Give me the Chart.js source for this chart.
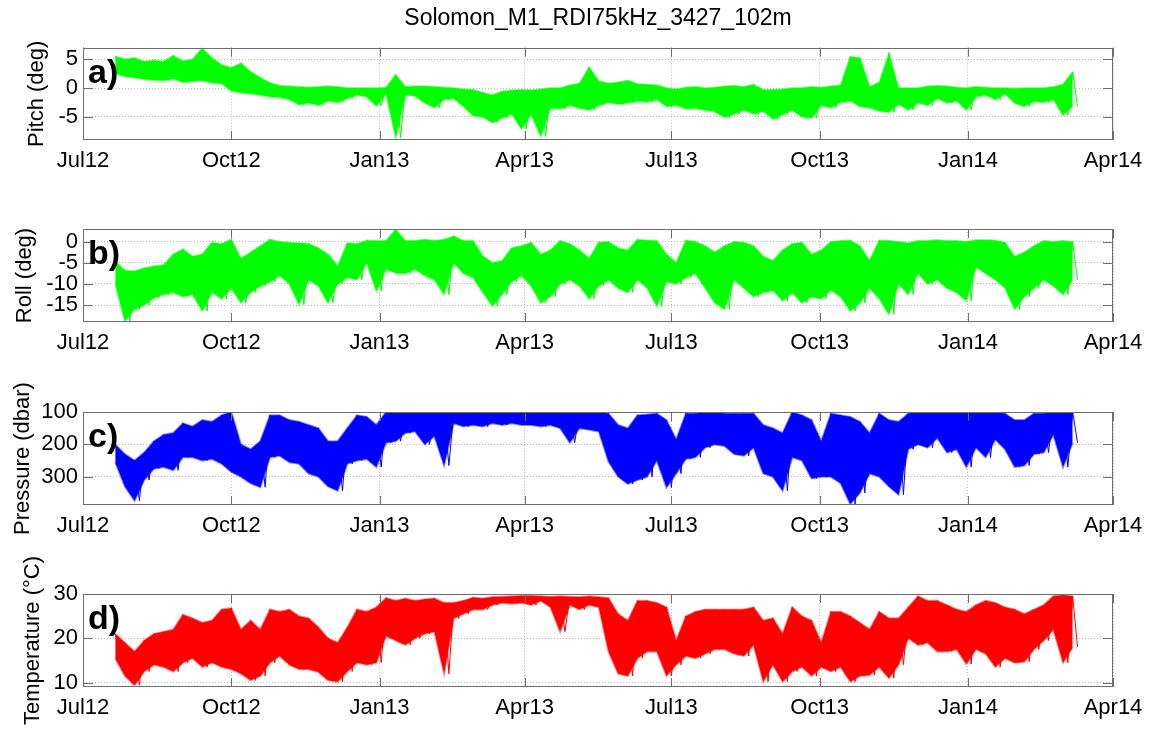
<!DOCTYPE html>
<html lang="en">
<head>
  <meta charset="UTF-8">
  <title>Solomon_M1_RDI75kHz_3427_102m</title>
  <script src="https://cdn.jsdelivr.net/npm/chart.js"></script>
  <style>
    html, body { margin: 0; padding: 0; background: #fff; overflow: hidden; }
    #wrap { position: relative; width: 1153px; height: 731px; }
    .panel { position: absolute; left: 0; width: 1153px; }
  </style>
</head>
<body>
<div id="wrap">
  <div class="panel" style="top:0px;height:184px"><canvas id="pitchChart"></canvas></div>
  <div class="panel" style="top:189px;height:177px"><canvas id="rollChart"></canvas></div>
  <div class="panel" style="top:372px;height:177px"><canvas id="presChart"></canvas></div>
  <div class="panel" style="top:554px;height:177px"><canvas id="tempChart"></canvas></div>
</div>

<script>
  // time axis: days since 1 Jul 2012
  const tickDays = [0, 92, 184, 274, 365, 457, 549, 639];
  const tickLabels = ['Jul12', 'Oct12', 'Jan13', 'Apr13', 'Jul13', 'Oct13', 'Jan14', 'Apr14'];

  // sample days (every 6 days) with upper / lower envelope
  const days = [20,26,32,38,44,50,56,62,68,74,80,86,92,98,104,110,116,122,128,134,
    140,146,152,158,164,170,176,182,188,194,200,206,212,218,224,230,236,242,248,254,
    260,266,272,278,284,290,296,302,308,314,320,326,332,338,344,350,356,362,368,374,
    380,386,392,398,404,410,416,422,428,434,440,446,452,458,464,470,476,482,488,494,
    500,506,512,518,524,530,536,542,548,554,560,566,572,578,584,590,596,602,608,614];

  const pitchHi = [5.5,5.0,5.2,4.6,4.8,4.6,5.6,4.7,5.0,6.9,
    5.2,4.0,3.5,4.3,2.8,1.8,0.9,0.4,0.3,0.2,
    0.1,0.2,0.3,0.2,0.0,0.0,0.0,0.0,0.1,2.3,
    0.2,0.3,0.3,0.2,0.1,0.0,-0.2,-0.3,-0.8,-1.2,
    -0.6,-0.4,-0.3,-0.4,-0.2,0.0,0.0,0.5,0.8,3.6,
    1.2,0.8,1.0,1.3,0.7,0.6,0.5,0.0,-0.2,0.1,
    0.2,0.0,0.1,0.3,0.4,0.2,0.6,-0.3,-0.3,-0.2,
    0.0,0.0,0.2,0.1,0.3,0.5,5.4,5.2,0.2,1.0,
    6.0,0.0,0.0,0.0,0.3,0.4,0.3,0.1,0.0,0.2,
    0.1,0.0,0.0,-0.1,0.0,0.0,0.0,0.2,0.6,2.8];
  const pitchLo = [2.5,2.0,1.8,1.5,1.4,1.3,1.6,1.0,1.2,1.3,
    0.9,0.8,-0.5,-0.8,-1.0,-1.2,-1.5,-1.6,-2.0,-2.9,
    -2.6,-3.0,-2.2,-2.5,-1.8,-1.2,-1.5,-3.1,-1.0,-8.6,
    -1.2,-1.4,-2.6,-3.4,-2.0,-1.8,-3.2,-4.8,-5.0,-6.0,
    -5.2,-4.5,-7.1,-4.6,-8.4,-3.5,-3.6,-3.0,-3.5,-3.8,
    -3.0,-2.5,-2.8,-2.6,-2.3,-2.4,-2.0,-3.2,-3.0,-3.6,
    -3.5,-3.8,-4.1,-5.1,-4.5,-3.8,-4.5,-4.0,-5.4,-4.6,
    -3.8,-5.0,-5.2,-3.0,-3.4,-2.5,-2.2,-3.2,-3.4,-4.0,
    -4.2,-2.8,-3.8,-2.6,-3.0,-1.8,-2.6,-2.2,-3.8,-1.5,
    -1.2,-2.0,-1.0,-2.6,-3.2,-2.3,-2.5,-2.0,-4.7,-3.2];

  const rollHi = [-4.6,-6.8,-7.0,-6.2,-5.8,-5.5,-3.0,-1.8,-3.5,-3.0,
    -0.2,-0.5,0.5,-4.0,-2.5,-1.0,0.5,0.0,-0.2,-0.3,
    -0.5,-1.5,-3.0,-5.8,-0.3,-0.5,0.3,0.2,0.2,2.9,
    0.2,0.2,0.5,0.2,0.5,1.3,0.2,0.2,-3.4,-5.0,
    -4.5,-1.5,-1.0,-0.2,-3.0,-2.0,0.2,-0.5,-2.0,-4.0,
    -0.2,0.0,-1.5,-2.0,0.5,0.3,0.2,-3.0,-5.0,0.3,
    0.0,-1.0,-2.5,-1.0,0.0,-0.2,-1.0,-3.5,-4.5,-2.0,
    -0.5,-0.2,-3.0,-2.0,0.0,0.2,0.3,-1.0,-4.5,0.3,
    0.2,0.0,-0.3,0.2,0.2,0.4,0.2,0.2,0.0,0.4,
    0.4,0.3,-0.2,-3.5,-2.5,-1.0,0.2,0.0,0.2,0.0];
  const rollLo = [-10,-18.8,-16.0,-15.0,-13.3,-12.5,-12.0,-13.0,-12.5,-16.4,
    -12.0,-13.5,-11.0,-14.5,-12.0,-10.5,-9.5,-8.0,-10.0,-14.9,
    -9.0,-10.5,-14.5,-10.0,-8.5,-9.0,-5.0,-11.7,-6.5,-7.4,
    -7.5,-6.5,-8.0,-9.0,-12.5,-5.0,-7.5,-8.5,-12.0,-15.2,
    -12.5,-9.5,-8.0,-10.5,-14.5,-13.0,-10.0,-9.0,-10.5,-13.5,
    -10.5,-9.0,-11.0,-12.0,-9.0,-11.0,-15.3,-9.5,-10.0,-8.5,
    -7.5,-11.0,-14.5,-16.0,-9.0,-11.0,-13.0,-12.0,-11.5,-14.0,
    -12.0,-14.5,-13.0,-13.5,-11.5,-13.0,-16.4,-14.5,-11.0,-13.5,
    -17.2,-10.0,-12.5,-7.5,-10.0,-9.0,-11.0,-12.0,-14.0,-6.0,
    -7.5,-9.0,-11.0,-16.0,-13.0,-11.0,-9.0,-10.5,-12.5,-9.0];

  const presMin = [200,230,250,225,190,170,165,135,145,125,
    130,110,100,200,215,190,110,110,125,130,
    140,150,190,190,150,110,115,140,100,100,
    100,100,100,100,100,100,100,100,100,100,
    100,100,100,100,100,100,100,100,100,100,
    100,105,140,150,110,108,105,125,185,105,
    105,100,100,105,105,105,105,140,150,165,
    100,110,125,190,105,110,115,130,165,105,
    125,130,105,100,100,100,100,100,100,100,
    100,100,105,125,125,105,105,100,100,100];
  const presMax = [255,330,374,310,275,270,280,240,240,250,
    245,260,285,300,320,332,240,235,255,260,
    290,300,330,343,260,250,245,270,195,190,
    165,160,200,175,265,135,145,140,145,135,
    140,135,140,140,145,140,150,195,150,155,
    160,253,300,322,310,300,250,333,290,245,
    240,210,200,205,230,235,210,290,300,343,
    240,250,305,300,300,320,384,350,290,300,
    330,355,215,200,210,180,225,215,270,210,
    240,185,215,270,265,230,225,170,270,195];

  const tempHi = [21,19,17,19.5,21,21.5,22,25.3,24.5,23.5,
    24,26.5,26.8,22,24,22,26.5,26,26.5,25,
    24.5,22.5,20,19,22.5,26.5,26,27,29.1,28.5,
    29,28.5,28.8,29,28,28,28.5,29.2,29.0,29.3,
    29.4,29.5,29.6,29.6,29.5,29.4,29.5,29.4,29.3,29.5,
    29.3,29.1,25.5,24,28.5,28.5,28,27,19.5,25,
    26,26.5,26.5,26.5,26.5,26.5,27,24,24.5,21,
    27,25,24,19,26,26,25,23.5,22,26,
    24.5,24.5,27,29.5,28.5,28.5,27.5,26.5,26,27.5,
    28.5,28,27,26.5,25.5,26.5,27.5,29.5,29.8,29.5];
  const tempLo = [15.5,11.5,9.4,12.5,14,13.5,12.5,14.5,15.5,13.5,
    14.5,13.5,13,12,10.5,11.5,14.5,16,14,13,
    13,12.4,10.5,10.2,12.5,14.5,14,14.5,20.5,19.5,
    18.5,20,21,21.5,12,24.5,25.5,26.5,26.5,27.5,
    28,27.8,28,27.5,28.5,27,21.5,27.5,26.5,27.5,
    27,17,12,11.5,15.5,17,17,11.5,14,16,
    15.5,16.5,17.5,17.5,16.5,16,18.5,10.2,14,10.2,
    12.5,13.5,11.5,13.5,12.5,13.5,10.2,11.5,11.7,13.5,
    11,14,20,18.5,19,17,17,17.5,14.2,17.5,
    16.5,13.5,15.5,14.5,14.7,17.5,19.5,22,14.5,18];

  const FONT = 'Liberation Sans, Arial, Helvetica, sans-serif';

  // box frame, inward ticks and the panel letter (matlab style)
  const matlabBox = {
    id: 'matlabBox',
    afterDraw(chart, args, opts) {
      const {ctx, chartArea: a, scales: {x, y}} = chart;
      ctx.save();
      ctx.strokeStyle = '#6e6e6e';
      ctx.lineWidth = 1;
      ctx.beginPath();
      x.ticks.forEach(t => {
        const px = Math.round(x.getPixelForValue(t.value)) + 0.5;
        ctx.moveTo(px, a.bottom); ctx.lineTo(px, a.bottom - 9);
        ctx.moveTo(px, a.top); ctx.lineTo(px, a.top + 9);
      });
      y.ticks.forEach(t => {
        const py = Math.round(y.getPixelForValue(t.value)) + 0.5;
        ctx.moveTo(a.left, py); ctx.lineTo(a.left + 10, py);
        ctx.moveTo(a.right, py); ctx.lineTo(a.right - 10, py);
      });
      ctx.stroke();
      ctx.strokeRect(Math.round(a.left) + 0.5, Math.round(a.top) + 0.5,
        Math.round(a.width) - 1, Math.round(a.height) - 1);
      ctx.font = 'bold 34px ' + FONT;
      ctx.fillStyle = '#000';
      ctx.textBaseline = 'middle';
      ctx.fillText(opts.text, a.left + 5, a.top + 26);
      ctx.restore();
    }
  };

  function drawPanel(id, cfg) {
    const top = days.map((d, i) => ({x: d, y: cfg.hi[i]}));
    const bottom = days.map((d, i) => ({x: d, y: cfg.lo[i]}));
    const zig = [];
    days.forEach((d, i) => {
      zig.push({x: d, y: cfg.hi[i]});
      zig.push({x: d + 3, y: cfg.lo[i]});
    });
    const gridOpts = {color: '#bcbcbc', lineWidth: 1, drawTicks: false};
    const borderOpts = {display: false, dash: [1, 2]};
    return new Chart(document.getElementById(id), {
      type: 'line',
      data: {
        datasets: [
          {data: top, borderColor: cfg.edge, backgroundColor: cfg.color, borderWidth: 2,
           fill: '+1', pointRadius: 0},
          {data: bottom, borderColor: cfg.edge, borderWidth: 2, fill: false, pointRadius: 0},
          {data: zig, borderColor: cfg.color, borderWidth: 1, fill: false, pointRadius: 0}
        ]
      },
      options: {
        responsive: true,
        maintainAspectRatio: false,
        animation: false,
        events: [],
        layout: {padding: {top: cfg.padTop, right: 40, left: 0, bottom: 0}},
        plugins: {
          legend: {display: false},
          tooltip: {enabled: false},
          title: cfg.title ? {
            display: true, text: cfg.title, color: '#000', fullSize: false,
            font: {family: FONT, size: 23, weight: 'normal'},
            padding: {top: 5, bottom: 15}
          } : {display: false},
          matlabBox: {text: cfg.letter}
        },
        scales: {
          x: {
            type: 'linear', min: 0, max: 639,
            afterBuildTicks: s => { s.ticks = tickDays.map(v => ({value: v})); },
            afterFit: s => { s.height = 44; },
            ticks: {
              callback: (v, i) => tickLabels[i],
              color: '#000', font: {family: FONT, size: 22},
              padding: 8, maxRotation: 0, autoSkip: false
            },
            grid: gridOpts, border: borderOpts
          },
          y: {
            min: cfg.min, max: cfg.max, reverse: !!cfg.reverse,
            afterBuildTicks: s => { s.ticks = cfg.ticks.map(v => ({value: v})); },
            afterFit: s => { s.width = 83; },
            ticks: {color: '#000', font: {family: FONT, size: 22}, padding: 5},
            title: {
              display: true, text: cfg.label, color: '#000',
              font: {family: FONT, size: 22}, padding: {top: cfg.labelPad, bottom: 0}
            },
            grid: gridOpts, border: borderOpts
          }
        }
      },
      plugins: [matlabBox]
    });
  }

  drawPanel('pitchChart', {
    hi: pitchHi, lo: pitchLo, color: '#00ff00', edge: 'rgba(0,255,0,0.45)',
    min: -9, max: 7, ticks: [-5, 0, 5], label: 'Pitch (deg)', letter: 'a)',
    padTop: 0, labelPad: 24, title: 'Solomon_M1_RDI75kHz_3427_102m'
  });
  drawPanel('rollChart', {
    hi: rollHi, lo: rollLo, color: '#00ff00', edge: 'rgba(0,255,0,0.45)',
    min: -19, max: 3, ticks: [-15, -10, -5, 0], label: 'Roll (deg)', letter: 'b)',
    padTop: 40, labelPad: 12
  });
  drawPanel('presChart', {
    hi: presMin, lo: presMax, color: '#0000ff', edge: 'rgba(0,0,255,0.45)',
    min: 100, max: 387, reverse: true, ticks: [100, 200, 300],
    label: 'Pressure (dbar)', letter: 'c)', padTop: 40, labelPad: 10
  });
  drawPanel('tempChart', {
    hi: tempHi, lo: tempLo, color: '#ff0000', edge: 'rgba(255,0,0,0.45)',
    min: 9, max: 30, ticks: [10, 20, 30], label: 'Temperature (°C)', letter: 'd)',
    padTop: 40, labelPad: 20
  });
</script>
</body>
</html>
